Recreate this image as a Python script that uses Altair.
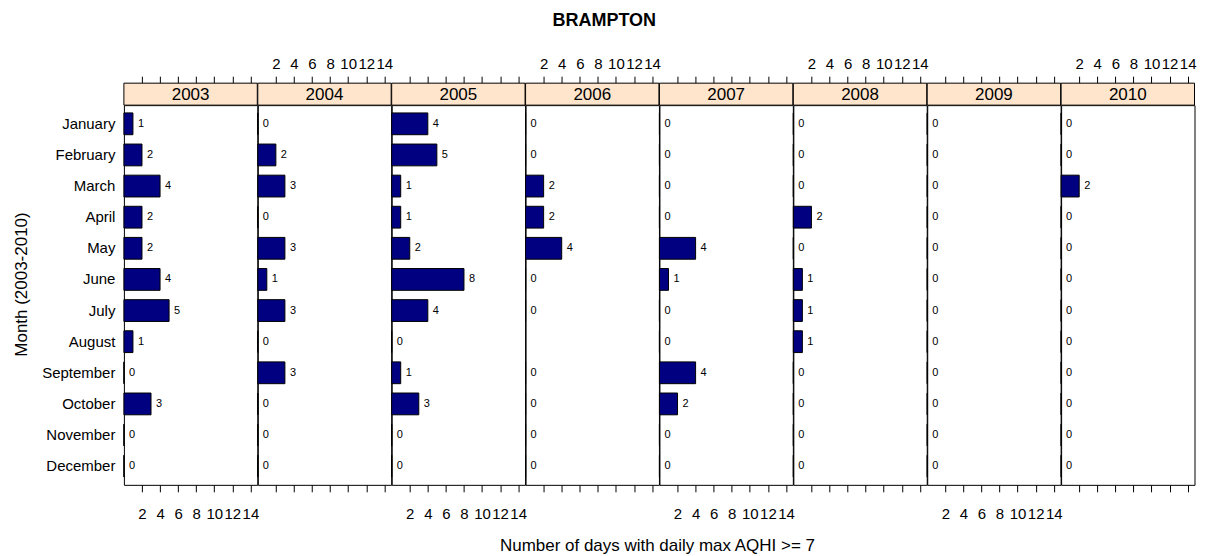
import altair as alt
import pandas as pd

months = ["January", "February", "March", "April", "May", "June", "July",
          "August", "September", "October", "November", "December"]
years = ["2003", "2004", "2005", "2006", "2007", "2008", "2009", "2010"]

days_2003 = [1, 2, 4, 2, 2, 4, 5, 1, 0, 3, 0, 0]
days_2004 = [0, 2, 3, 0, 3, 1, 3, 0, 3, 0, 0, 0]
days_2005 = [4, 5, 1, 1, 2, 8, 4, 0, 1, 3, 0, 0]
days_2006 = [0, 0, 2, 2, 4, 0, 0, None, 0, 0, 0, 0]
days_2007 = [0, 0, 0, 0, 4, 1, 0, 0, 4, 2, 0, 0]
days_2008 = [0, 0, 0, 2, 0, 1, 1, 1, 0, 0, 0, 0]
days_2009 = [0, 0, 0, 0, 0, 0, 0, 0, 0, 0, 0, 0]
days_2010 = [0, 0, 2, 0, 0, 0, 0, 0, 0, 0, 0, 0]

tick_values = [2, 4, 6, 8, 10, 12, 14]
x_max = 14.76

series = [days_2003, days_2004, days_2005, days_2006,
          days_2007, days_2008, days_2009, days_2010]

rows = []
for y, vals in zip(years, series):
    for m, v in zip(months, vals):
        if v is not None:
            rows.append({"year": y, "month": m, "days": v})
df = pd.DataFrame(rows)

W = 133.5
H = 380
STRIP = 22
FONT = "Liberation Sans"

x_scale = alt.Scale(domain=[0, x_max], nice=False, zero=False)
y_scale = alt.Scale(domain=months, paddingInner=0.3, paddingOuter=0.25)

panels = []
for i, y in enumerate(years):
    d = df[df["year"] == y]
    base = alt.Chart(d)
    bottom_axis = alt.Axis(orient="bottom", values=tick_values, tickSize=7,
                           labels=(i % 2 == 0), title=None, domain=False,
                           grid=False, labelFontSize=15, labelPadding=15,
                           labelColor="black", tickColor="black",
                           labelFlush=False, labelOverlap=False)
    top_axis = alt.Axis(orient="top", values=tick_values, tickSize=7,
                        labels=(i % 2 == 1), title=None, domain=False,
                        grid=False, offset=STRIP, labelFontSize=15,
                        labelPadding=5, labelColor="black", tickColor="black",
                        labelFlush=False, labelOverlap=False)
    if i == 0:
        y_axis = alt.Axis(title="Month (2003-2010)", ticks=False, domain=False,
                          labelFontSize=15, labelPadding=9, labelColor="black",
                          titleFontSize=17, titleFontWeight="normal",
                          titleColor="black", titlePadding=11,
                          titleY=179)
    else:
        y_axis = None

    bars = base.mark_bar(fill="#000080", stroke="black", strokeWidth=1).encode(
        x=alt.X("days:Q", scale=x_scale, axis=bottom_axis),
        y=alt.Y("month:N", sort=months, scale=y_scale, axis=y_axis),
    )
    labels = base.mark_text(align="left", baseline="middle", dx=5,
                            fontSize=11, fill="black").encode(
        x=alt.X("days:Q", scale=x_scale, axis=top_axis),
        y=alt.Y("month:N", sort=months, scale=y_scale, axis=y_axis),
        text="days:Q",
    )
    strip_df = pd.DataFrame({"year": [y]})
    strip = alt.Chart(strip_df).mark_rect(
        fill="#FFE5CC", stroke="black", strokeWidth=1).encode(
        x=alt.value(0), x2=alt.value(W), y=alt.value(-STRIP), y2=alt.value(0))
    strip_text = alt.Chart(strip_df).mark_text(
        fontSize=17, baseline="middle", align="center", fill="black").encode(
        x=alt.value(W / 2), y=alt.value(-STRIP / 2 + 1), text="year:N")
    layers = [strip, bars, labels, strip_text]
    if i == 0:
        xtitle = alt.Chart(pd.DataFrame({"t": ["Number of days with daily max AQHI >= 7"]})).mark_text(
            fontSize=17, baseline="middle", align="center", fill="black").encode(
            x=alt.value(4 * W), y=alt.value(H + 61), text="t:N")
        layers.append(xtitle)
    panels.append(alt.layer(*layers).properties(width=W, height=H))

chart = alt.hconcat(*panels, spacing=0, bounds="flush").properties(
    title=alt.TitleParams("BRAMPTON", fontSize=18, fontWeight="bold",
                          anchor="middle", frame="bounds", offset=26,
                          dx=0, color="black"),
    padding={"left": 4, "top": 3, "right": 0, "bottom": 0},
).configure(font=FONT).configure_view(stroke="black", strokeWidth=1)

chart.save("out.html", embed_options={"renderer": "svg", "actions": False})
